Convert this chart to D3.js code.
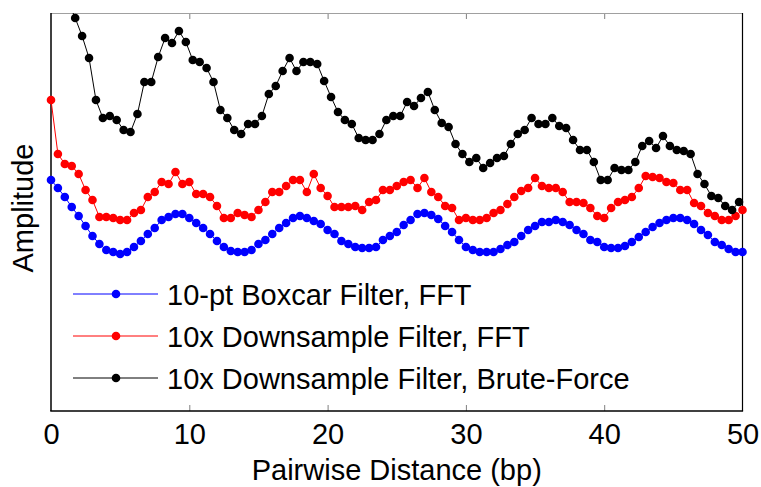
<!DOCTYPE html>
<html>
<head>
<meta charset="utf-8">
<script src="https://cdn.jsdelivr.net/npm/d3@7"></script>
<style>
  html, body { margin: 0; padding: 0; background: #fff; }
  svg { display: block; }
  text { font-family: "Liberation Sans", Arial, Helvetica, sans-serif; fill: #000; }
</style>
</head>
<body>
<svg id="chart" width="761" height="487"></svg>
<script>
// ---- Data (amplitude in arbitrary units) ----
const xTicks = [0, 10, 20, 30, 40, 50];
const seriesNames = [
  "10-pt Boxcar Filter, FFT",
  "10x Downsample Filter, FFT",
  "10x Downsample Filter, Brute-Force"
];
const seriesColors = ["#0000ff", "#ff0000", "#000000"];

// Pairwise distance grids
const xFFT = d3.range(0, 101).map(i => i * 0.5);          // 0, 0.5, ... 50
const xBrute = d3.range(0, 100).map(j => 0.25 + j * 0.5);  // 0.25, 0.75, ... 49.75

const boxcarFFT = [
  2.31, 2.23, 2.14, 2.04, 1.95, 1.85, 1.75, 1.67, 1.61, 1.59,
  1.57, 1.59, 1.64, 1.70, 1.77, 1.83, 1.91, 1.94, 1.97, 1.97,
  1.93, 1.88, 1.83, 1.77, 1.70, 1.64, 1.60, 1.59, 1.59, 1.61,
  1.67, 1.71, 1.77, 1.83, 1.88, 1.93, 1.95, 1.93, 1.90, 1.87,
  1.81, 1.77, 1.70, 1.67, 1.64, 1.63, 1.63, 1.64, 1.71, 1.75,
  1.79, 1.86, 1.91, 1.97, 1.98, 1.96, 1.92, 1.85, 1.79, 1.71,
  1.64, 1.61, 1.59, 1.59, 1.59, 1.62, 1.66, 1.69, 1.75, 1.81,
  1.85, 1.89, 1.89, 1.91, 1.89, 1.86, 1.81, 1.77, 1.71, 1.69,
  1.64, 1.63, 1.63, 1.65, 1.69, 1.74, 1.79, 1.84, 1.88, 1.91,
  1.93, 1.93, 1.91, 1.87, 1.81, 1.76, 1.69, 1.66, 1.62, 1.59, 1.59
];

const downsampleFFT = [
  3.11, 2.57, 2.47, 2.45, 2.37, 2.21, 2.11, 1.94, 1.94, 1.93,
  1.91, 1.91, 1.98, 2.01, 2.14, 2.19, 2.29, 2.27, 2.39, 2.27,
  2.29, 2.17, 2.17, 2.14, 2.05, 1.93, 1.93, 1.98, 1.96, 1.94,
  2.01, 2.09, 2.19, 2.19, 2.25, 2.31, 2.31, 2.19, 2.37, 2.23,
  2.15, 2.04, 2.04, 2.04, 2.05, 2.01, 2.09, 2.11, 2.21, 2.21,
  2.25, 2.29, 2.31, 2.23, 2.33, 2.19, 2.14, 2.05, 2.03, 1.91,
  1.93, 1.91, 1.91, 1.93, 1.98, 2.01, 2.07, 2.14, 2.20, 2.23,
  2.33, 2.25, 2.23, 2.23, 2.19, 2.09, 2.09, 2.08, 2.03, 1.95,
  1.93, 2.03, 2.09, 2.11, 2.14, 2.23, 2.35, 2.34, 2.33, 2.29,
  2.28, 2.21, 2.21, 2.08, 2.05, 1.98, 1.95, 1.91, 1.91, 1.95, 2.01
];

const downsampleBrute = [
  4.46, 4.26, 4.09, 3.93, 3.75, 3.53, 3.11, 2.93, 2.95, 2.91,
  2.81, 2.79, 2.97, 3.29, 3.29, 3.54, 3.73, 3.68, 3.80, 3.69,
  3.51, 3.49, 3.43, 3.29, 3.01, 2.93, 2.81, 2.77, 2.87, 2.87,
  2.95, 3.17, 3.25, 3.40, 3.53, 3.40, 3.49, 3.49, 3.47, 3.30,
  3.14, 2.99, 2.91, 2.87, 2.73, 2.71, 2.71, 2.77, 2.91, 2.95,
  2.95, 3.09, 3.05, 3.13, 3.19, 3.01, 2.88, 2.84, 2.67, 2.57,
  2.49, 2.53, 2.43, 2.48, 2.53, 2.55, 2.67, 2.77, 2.81, 2.93,
  2.87, 2.87, 2.93, 2.85, 2.83, 2.71, 2.61, 2.61, 2.49, 2.31,
  2.31, 2.43, 2.41, 2.41, 2.49, 2.65, 2.70, 2.63, 2.75, 2.65,
  2.61, 2.60, 2.57, 2.37, 2.27, 2.15, 2.13, 2.05, 2.01, 2.09
];

const yDomain = [0, 3.98];

// ---- Layout ----
const svg = d3.select("#chart");
const plot = { left: 51, right: 742.5, top: 13, bottom: 411 };

const x = d3.scaleLinear().domain([0, 50]).range([plot.left, plot.right]);
const y = d3.scaleLinear().domain(yDomain).range([plot.bottom, plot.top]);

svg.append("rect").attr("width", 761).attr("height", 487).attr("fill", "#fff");

// clip (vertical only, markers at the x ends may overhang the box)
svg.append("defs").append("clipPath").attr("id", "clip")
  .append("rect")
  .attr("x", 0).attr("y", plot.top)
  .attr("width", 761).attr("height", plot.bottom - plot.top);

// ---- Axes box & ticks ----
const axisG = svg.append("g");

// bottom axis with inward ticks
const bottomAxis = d3.axisBottom(x).tickValues(xTicks).tickSizeInner(-6).tickSizeOuter(0).tickPadding(12);
const gb = axisG.append("g").attr("transform", `translate(0,${plot.bottom})`).call(bottomAxis);
gb.select(".domain").remove();
gb.selectAll(".tick line").attr("stroke", "#808080").attr("stroke-width", 1)
  .filter(d => d === 0 || d === 50).remove();
gb.selectAll(".tick text")
  .attr("font-size", 29).attr("font-family", "Liberation Sans, Arial, sans-serif")
  .attr("fill", "#000").attr("dy", "0.71em");

// top axis (inward ticks, no labels)
const topAxis = d3.axisTop(x).tickValues(xTicks).tickSizeInner(-6).tickSizeOuter(0).tickFormat("");
const gt = axisG.append("g").attr("transform", `translate(0,${plot.top})`).call(topAxis);
gt.select(".domain").remove();
gt.selectAll(".tick line").attr("stroke", "#808080").attr("stroke-width", 1)
  .filter(d => d === 0 || d === 50).remove();

// box lines
axisG.append("line").attr("x1", plot.left).attr("x2", plot.right)
  .attr("y1", plot.top + 0.5).attr("y2", plot.top + 0.5)
  .attr("stroke", "#a0a0a0").attr("stroke-width", 1.2);
axisG.append("line").attr("x1", plot.right).attr("x2", plot.right)
  .attr("y1", plot.top).attr("y2", plot.bottom)
  .attr("stroke", "#000").attr("stroke-width", 1.2);
axisG.append("line").attr("x1", plot.left).attr("x2", plot.left)
  .attr("y1", plot.top).attr("y2", plot.bottom)
  .attr("stroke", "#000").attr("stroke-width", 1.5);
axisG.append("line").attr("x1", plot.left - 0.75).attr("x2", plot.right + 0.6)
  .attr("y1", plot.bottom).attr("y2", plot.bottom)
  .attr("stroke", "#000").attr("stroke-width", 1.5);

// ---- Series ----
const series = [
  { name: seriesNames[0], color: seriesColors[0], xs: xFFT, ys: boxcarFFT },
  { name: seriesNames[1], color: seriesColors[1], xs: xFFT, ys: downsampleFFT },
  { name: seriesNames[2], color: seriesColors[2], xs: xBrute, ys: downsampleBrute }
];

const line = d3.line().x(d => x(d[0])).y(d => y(d[1]));
const dataG = svg.append("g").attr("clip-path", "url(#clip)");

series.forEach(s => {
  const pts = s.xs.map((xv, i) => [xv, s.ys[i]]);
  dataG.append("path").datum(pts)
    .attr("d", line).attr("fill", "none")
    .attr("stroke", s.color).attr("stroke-width", 1);
  dataG.selectAll(null).data(pts.filter(p => p[1] <= yDomain[1] && p[1] >= yDomain[0]))
    .enter().append("circle")
    .attr("cx", d => x(d[0])).attr("cy", d => y(d[1]))
    .attr("r", 4.3).attr("fill", s.color);
});

// ---- Legend ----
const legendRows = [294, 336, 378];
const legend = svg.append("g");
series.forEach((s, i) => {
  const ly = legendRows[i];
  legend.append("line").attr("x1", 73).attr("x2", 158).attr("y1", ly).attr("y2", ly)
    .attr("stroke", s.color).attr("stroke-width", 1);
  legend.append("circle").attr("cx", 116).attr("cy", ly).attr("r", 4.3).attr("fill", s.color);
  legend.append("text").attr("x", 167).attr("y", ly + 10.5)
    .attr("font-size", 29).text(s.name);
});

// ---- Axis titles ----
svg.append("text").attr("x", (plot.left + plot.right) / 2).attr("y", 480)
  .attr("text-anchor", "middle").attr("font-size", 29).text("Pairwise Distance (bp)");
svg.append("text").attr("transform", `translate(33,208) rotate(-90)`)
  .attr("text-anchor", "middle").attr("font-size", 29).text("Amplitude");
</script>
</body>
</html>
